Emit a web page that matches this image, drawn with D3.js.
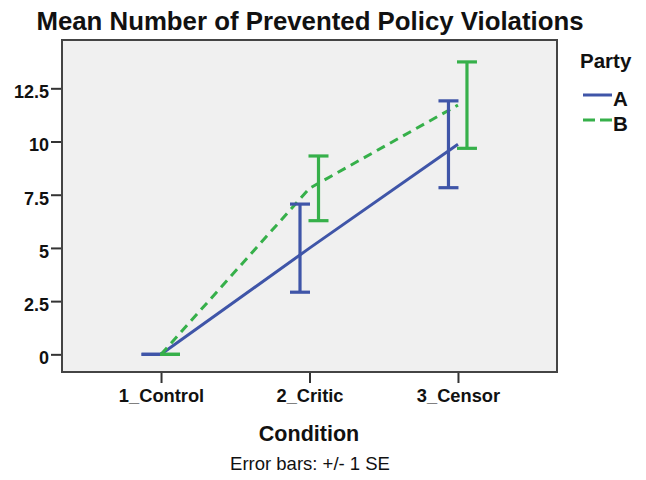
<!DOCTYPE html>
<html>
<head>
<meta charset="utf-8">
<script src="https://cdn.jsdelivr.net/npm/d3@7"></script>
<style>
  html, body { margin: 0; padding: 0; background: #ffffff; }
  svg { display: block; }
  text { font-family: "Liberation Sans", Arial, sans-serif; fill: #111; }
</style>
</head>
<body>
<svg id="chart" width="646" height="480"></svg>
<script>
// ---- data ----
const categories = ["1_Control", "2_Critic", "3_Censor"];
const seriesNames = ["A", "B"];
const meansA = [0, 4.99, 9.87];
const seA = [0, 2.07, 2.04];
const meansB = [0, 7.8, 11.71];
const seB = [0, 1.52, 2.03];
const yTicks = [0, 2.5, 5, 7.5, 10, 12.5];
const yTickLabels = ["0", "2.5", "5", "7.5", "10", "12.5"];

const series = [
  { name: seriesNames[0], means: meansA, se: seA, color: "#3f55a8", dash: null, offset: -9.5 },
  { name: seriesNames[1], means: meansB, se: seB, color: "#36b04a", dash: "9,6", offset: 9 }
];

const svg = d3.select("#chart");
const frame = { left: 62, right: 557, top: 40, bottom: 372 };

const x = d3.scalePoint().domain(categories).range([frame.left, frame.right]).padding(0.667);
const y = d3.scaleLinear().domain([-0.83, 14.77]).range([frame.bottom, frame.top]);

// title
svg.append("text")
  .attr("x", 310).attr("y", 30)
  .attr("text-anchor", "middle")
  .style("font-size", "25.8px").style("font-weight", "bold")
  .text("Mean Number of Prevented Policy Violations");

// plot background
svg.append("rect")
  .attr("x", frame.left).attr("y", frame.top)
  .attr("width", frame.right - frame.left).attr("height", frame.bottom - frame.top)
  .attr("fill", "#f0f0f0");

// y axis
const yAxis = d3.axisLeft(y).tickValues(yTicks)
  .tickFormat((d, i) => yTickLabels[i]).tickSize(11).tickPadding(2);
const gy = svg.append("g").attr("transform", `translate(${frame.left},0)`).call(yAxis);
gy.select(".domain").remove();
gy.selectAll(".tick line").attr("stroke", "#333").attr("stroke-width", 2);
gy.selectAll(".tick text")
  .style("font-size", "18px").style("font-weight", "bold")
  .style("font-family", "'Liberation Sans', Arial, sans-serif")
  .attr("fill", "#111").attr("dy", "0.52em");

// x axis
const xAxis = d3.axisBottom(x).tickSize(11).tickPadding(6);
const gx = svg.append("g").attr("transform", `translate(0,${frame.bottom})`).call(xAxis);
gx.select(".domain").remove();
gx.selectAll(".tick line").attr("stroke", "#333").attr("stroke-width", 2);
gx.selectAll(".tick text")
  .style("font-size", "18.3px").style("font-weight", "bold")
  .style("font-family", "'Liberation Sans', Arial, sans-serif")
  .attr("fill", "#111");

// frame border
svg.append("rect")
  .attr("x", frame.left).attr("y", frame.top)
  .attr("width", frame.right - frame.left).attr("height", frame.bottom - frame.top)
  .attr("fill", "none").attr("stroke", "#444").attr("stroke-width", 2);

// lines
const line = d3.line().x((d, i) => x(categories[i])).y(d => y(d));
series.forEach(s => {
  svg.append("path")
    .datum(s.means)
    .attr("d", line)
    .attr("fill", "none")
    .attr("stroke", s.color)
    .attr("stroke-width", 3)
    .attr("stroke-dasharray", s.dash);
});

// error bars
const capW = 20;
series.forEach(s => {
  const g = svg.append("g");
  categories.forEach((c, i) => {
    const cx = x(c) + s.offset;
    const lo = y(s.means[i] - s.se[i]);
    const hi = y(s.means[i] + s.se[i]);
    g.append("line").attr("x1", cx).attr("x2", cx).attr("y1", lo).attr("y2", hi)
      .attr("stroke", s.color).attr("stroke-width", 3.2);
    [lo, hi].forEach(yy => {
      g.append("line").attr("x1", cx - capW / 2).attr("x2", cx + capW / 2)
        .attr("y1", yy).attr("y2", yy)
        .attr("stroke", s.color).attr("stroke-width", 3.2);
    });
  });
});

// axis title
svg.append("text")
  .attr("x", 309).attr("y", 441)
  .attr("text-anchor", "middle")
  .style("font-size", "21.5px").style("font-weight", "bold")
  .text("Condition");

// footnote
svg.append("text")
  .attr("x", 310).attr("y", 470)
  .attr("text-anchor", "middle")
  .style("font-size", "18.5px")
  .text("Error bars: +/- 1 SE");

// legend
const lg = svg.append("g");
lg.append("text").attr("x", 580).attr("y", 68)
  .style("font-size", "20.5px").style("font-weight", "bold").text("Party");
series.forEach((s, i) => {
  const yy = 95 + i * 25;
  lg.append("line").attr("x1", 583).attr("x2", 612).attr("y1", yy).attr("y2", yy)
    .attr("stroke", s.color).attr("stroke-width", 3)
    .attr("stroke-dasharray", s.dash ? "12,5" : null);
  lg.append("text").attr("x", 613).attr("y", yy + 10.5)
    .style("font-size", "20.5px").style("font-weight", "bold").text(s.name);
});
</script>
</body>
</html>
